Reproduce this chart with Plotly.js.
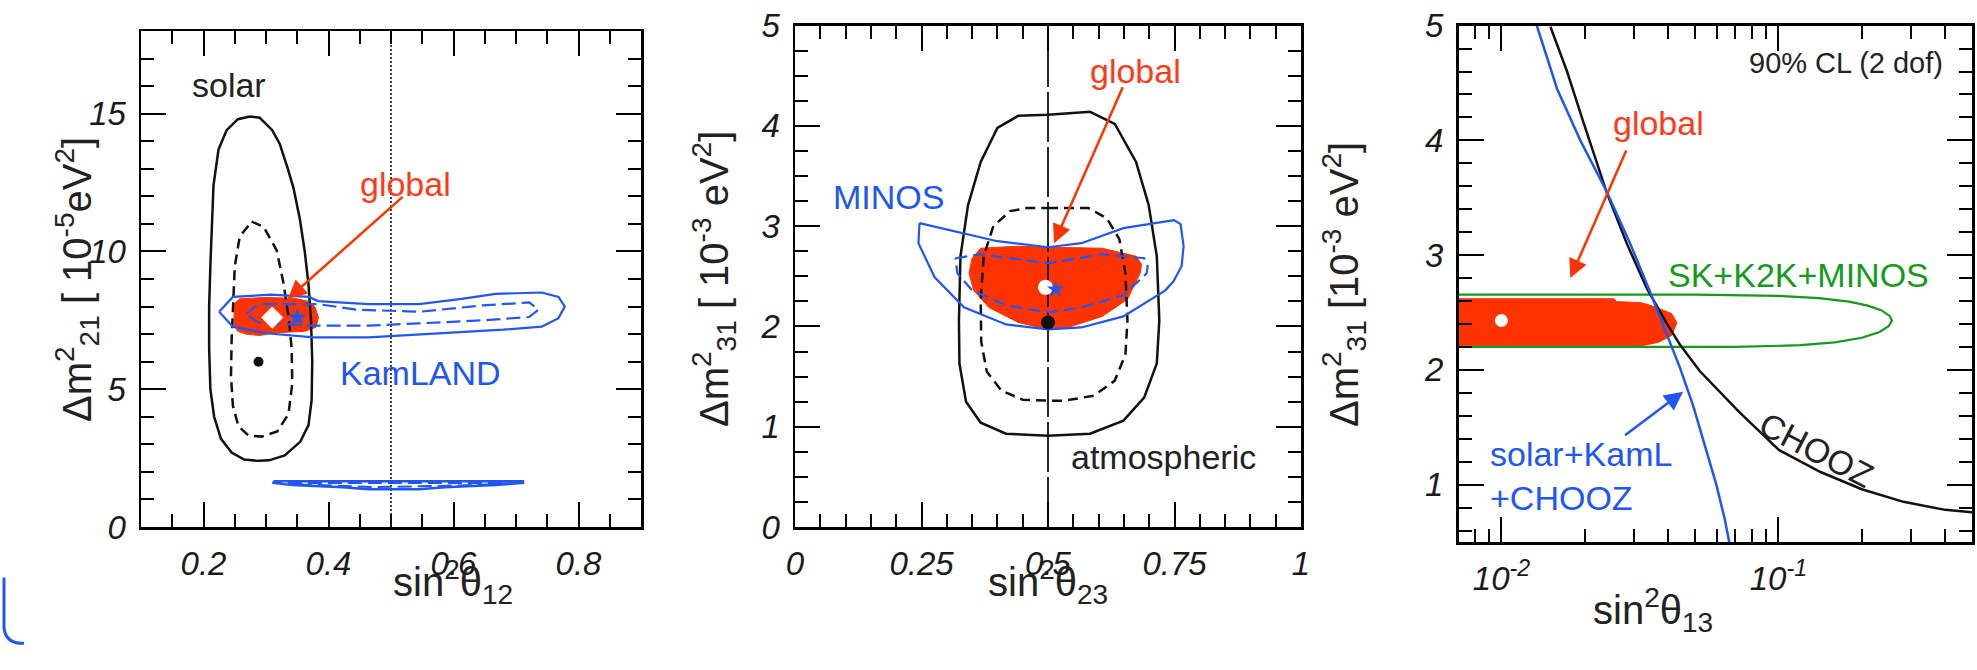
<!DOCTYPE html>
<html><head><meta charset="utf-8">
<script src="https://cdn.plot.ly/plotly-3.0.1.min.js"></script>
<style>html,body{margin:0;padding:0;background:#fff}#wrap{position:relative;width:1977px;height:670px}.pl{position:absolute;left:0;top:0;width:1977px;height:670px}#p0{position:absolute;left:0;top:565px;width:40px;height:90px}#note{position:absolute;left:1975px;top:668px;width:2px;height:2px;background:rgba(255,255,255,0.85);z-index:10;white-space:pre-wrap}</style>
</head><body><div id="wrap"><div id="p1" class="pl"></div><div id="p2" class="pl"></div><div id="p3" class="pl"></div><div id="p0"></div></div><div id="note"></div>
<script>
// ---------- Panel 1: sin^2 theta12 vs dm21 ----------
const solarOuterX = [0.274,0.29,0.31,0.322,0.335,0.344,0.354,0.362,0.368,0.372,0.374,0.373,0.368,0.355,0.33,0.305,0.288,0.265,0.245,0.228,0.217,0.211,0.209,0.209,0.211,0.213,0.216,0.224,0.237,0.255,0.274];
const solarOuterY = [14.9,14.85,14.4,13.9,13.0,12.3,11.2,10.0,8.8,7.5,6.0,4.6,3.7,3.1,2.6,2.42,2.4,2.45,2.7,3.2,4.0,5.0,6.5,8.0,9.5,11.0,12.4,13.7,14.4,14.8,14.9];
const solarInnerX = [0.277,0.296,0.317,0.328,0.336,0.341,0.342,0.336,0.318,0.293,0.272,0.256,0.247,0.244,0.245,0.248,0.25,0.258,0.277];
const solarInnerY = [11.08,10.9,10.05,8.85,7.63,6.5,5.2,4.1,3.47,3.28,3.32,3.65,4.4,5.5,6.8,8.24,9.45,10.54,11.08];
const kamOuterX = [0.225,0.247,0.308,0.369,0.383,0.464,0.545,0.613,0.667,0.741,0.768,0.778,0.768,0.741,0.680,0.613,0.545,0.464,0.376,0.301,0.247,0.225];
const kamOuterY = [7.81,8.35,8.43,8.35,8.20,8.09,8.09,8.28,8.46,8.51,8.35,8.0,7.58,7.27,7.16,7.07,7.0,6.88,6.88,7.03,7.27,7.81];
const kamInnerX = [0.268,0.288,0.383,0.444,0.545,0.646,0.721,0.736,0.721,0.646,0.545,0.464,0.376,0.288,0.268];
const kamInnerY = [7.73,8.09,8.09,7.89,7.81,8.04,8.15,7.89,7.62,7.5,7.39,7.31,7.31,7.42,7.73];
const kamLowOuterX = [0.312,0.711,0.711,0.667,0.586,0.545,0.464,0.423,0.342,0.312,0.312];
const kamLowOuterY = [1.66,1.66,1.60,1.52,1.44,1.37,1.37,1.44,1.52,1.60,1.66];
const kamLowInnerX = [0.335,0.69,0.66,0.58,0.47,0.36,0.335];
const kamLowInnerY = [1.60,1.60,1.55,1.49,1.45,1.54,1.60];
const global1X = [0.249,0.249,0.258,0.30,0.345,0.366,0.378,0.384,0.380,0.362,0.315,0.29,0.268,0.255,0.249];
const global1Y = [7.3,8.1,8.28,8.33,8.3,8.2,8.0,7.6,7.25,7.1,7.05,6.95,7.0,7.1,7.3];
const best1 = {global:[0.31,7.6], kam:[0.35,7.6], solar:[0.288,6.0]};
const maxMix = 0.5;

// ---------- Panel 2: sin^2 theta23 vs dm31 ----------
const atmOuterX = [0.5,0.583,0.632,0.674,0.699,0.715,0.72,0.715,0.69,0.649,0.583,0.5,0.417,0.367,0.338,0.325,0.324,0.327,0.342,0.367,0.4,0.441,0.5];
const atmOuterY = [4.11,4.14,4.02,3.64,3.21,2.70,2.06,1.63,1.29,1.06,0.93,0.91,0.93,1.04,1.25,1.63,2.06,2.70,3.21,3.64,3.98,4.10,4.11];
const atmInnerX = [0.5,0.58,0.616,0.641,0.653,0.657,0.653,0.632,0.591,0.533,0.5,0.45,0.408,0.379,0.368,0.367,0.373,0.392,0.425,0.458,0.5];
const atmInnerY = [3.18,3.18,3.08,2.87,2.53,2.06,1.72,1.46,1.31,1.26,1.26,1.27,1.36,1.55,1.85,2.27,2.70,3.0,3.15,3.18,3.18];
const minosOuterX = [0.246,0.317,0.4,0.5,0.566,0.649,0.749,0.762,0.768,0.764,0.748,0.732,0.649,0.566,0.5,0.417,0.334,0.276,0.244,0.246];
const minosOuterY = [3.03,2.95,2.85,2.79,2.83,2.98,3.06,3.02,2.8,2.6,2.45,2.36,2.10,1.99,1.97,2.02,2.19,2.49,2.83,3.03];
const minosInnerX = [0.317,0.367,0.44,0.5,0.607,0.69,0.697,0.695,0.649,0.566,0.5,0.417,0.35,0.321,0.317];
const minosInnerY = [2.68,2.72,2.67,2.63,2.72,2.68,2.6,2.53,2.31,2.19,2.14,2.21,2.36,2.53,2.68];
const global2X = [0.344,0.35,0.367,0.441,0.5,0.607,0.674,0.685,0.682,0.657,0.607,0.533,0.5,0.441,0.383,0.353,0.344];
const global2Y = [2.53,2.68,2.78,2.80,2.79,2.78,2.70,2.62,2.53,2.27,2.10,1.98,1.97,2.04,2.19,2.36,2.53];
const best2 = {global:[0.495,2.39], minos:[0.515,2.37], atm:[0.5,2.04]};

// ---------- Panel 3: sin^2 theta13 (log) vs dm31 ----------
const choozX = [0.01503,0.01726,0.01982,0.02213,0.02404,0.02837,0.0335,0.03944,0.0441,0.052,0.0613,0.0724,0.1007,0.142,0.2,0.283,0.4,0.5];
const choozY = [4.99,4.6,4.15,3.79,3.54,3.10,2.71,2.41,2.22,1.99,1.81,1.63,1.30,1.11,0.96,0.85,0.78,0.76];
const solKamX = [0.0133,0.01346,0.01588,0.01927,0.02404,0.02917,0.0344,0.0389,0.0441,0.0492,0.055,0.0597,0.064,0.0663,0.0667];
const solKamY = [5.05,4.99,4.45,4.0,3.55,3.10,2.68,2.35,2.02,1.69,1.30,1.0,0.70,0.52,0.48];
const skX = [0.005,0.05,0.1,0.14,0.18,0.21,0.235,0.252,0.257,0.25,0.232,0.2,0.16,0.12,0.07,0.005];
const skY = [2.655,2.655,2.645,2.625,2.595,2.56,2.52,2.47,2.43,2.38,2.33,2.28,2.24,2.215,2.2,2.2];
const global3X = [0.005,0.0255,0.026,0.032,0.0358,0.0412,0.043,0.0412,0.0369,0.0321,0.005,0.005];
const global3Y = [2.62,2.62,2.595,2.585,2.55,2.49,2.41,2.30,2.24,2.21,2.21,2.62];
const best3 = [0.01,2.43];
const p3MajorTicks = [0.01, 0.1];
const p3MajorText = ['10<sup>-2</sup>', '10<sup>-1</sup>'];
const p3MinorTicks = [0.007,0.008,0.009,0.02,0.03,0.04,0.05,0.06,0.07,0.08,0.09,0.2,0.3,0.4,0.5];

const RED = '#ff3300', BLUE = '#2157f0', GREEN = '#169a1c', BLK = '#111111';
const FONT = 'Liberation Sans, Arial, Helvetica, sans-serif';
const L = Math.log10;
const W = 1977, H = 670;
const px = v => v / W, py = v => 1 - v / H;

function line(x, y, color, width, dash) {
  const ln = {color: color, width: width};
  if (dash) ln.dash = dash;
  return {type:'scatter', mode:'lines', x:x, y:y, line:ln, hoverinfo:'skip', showlegend:false};
}
function fill(x, y, color) {
  return {type:'scatter', mode:'lines', x:x, y:y, fill:'toself', fillcolor:color, line:{color:color, width:1}, hoverinfo:'skip', showlegend:false};
}
function mark(pt, symbol, color, size) {
  return {type:'scatter', mode:'markers', x:[pt[0]], y:[pt[1]], marker:{symbol:symbol, color:color, size:size, line:{width:0}}, hoverinfo:'skip', showlegend:false};
}
const tickFont = {family: FONT, size: 33, color: '#1a1a1a', style: 'italic'};
function axisBase(extra) {
  return Object.assign({showline: true, linecolor: '#000', linewidth: 2.5, mirror: 'ticks',
    ticks: 'inside', ticklen: 25, tickwidth: 2, tickcolor: '#000', showgrid: false, zeroline: false,
    tickfont: tickFont, ticklabelstandoff: 6, fixedrange: true, layer: 'above traces'}, extra);
}
function minor(dtick) { return {ticks: 'inside', ticklen: 13, tickwidth: 2, tickcolor: '#000', dtick: dtick, tick0: 0, showgrid: false}; }
const labelFont = c => ({family: FONT, size: 34, color: c});
function txt(text, x, y, color, extra) {
  return Object.assign({text: text, x: x, y: y, xref: 'x', yref: 'y', showarrow: false,
    font: labelFont(color)}, extra || {});
}
function arrow(head, tail, color) {
  return {text: '', x: head[0], y: head[1], ax: tail[0], ay: tail[1], xref: 'x', yref: 'y',
    axref: 'x', ayref: 'y', showarrow: true, arrowhead: 2, arrowsize: 1.5, arrowwidth: 2.5,
    arrowcolor: color, standoff: 0};
}
function title(text, xpx, ypx, angle) {
  return {text: text, x: px(xpx), y: py(ypx), xref: 'paper', yref: 'paper', showarrow: false,
    font: {family: FONT, size: 40, color: '#222'}, textangle: angle || 0};
}
function layoutFor(xa, ya) {
  const xa2 = Object.assign({}, xa, {overlaying: 'x', anchor: 'y2', showticklabels: false});
  const ya2 = Object.assign({}, ya, {overlaying: 'y', anchor: 'x2', showticklabels: false});
  return {width: W, height: H, margin: {l: 0, r: 0, t: 0, b: 0}, showlegend: false,
    xaxis: Object.assign({anchor: 'y'}, xa), yaxis: Object.assign({anchor: 'x'}, ya), xaxis2: xa2, yaxis2: ya2};
}
const cfg = {displayModeBar: false, staticPlot: true};

function draw(id, traces, layout, anns) {
  return Plotly.newPlot(id, traces, layout, cfg)
    .then(() => Plotly.relayout(id, {annotations: anns}))
    .then(() => Plotly.relayout(id, {paper_bgcolor: 'rgba(0,0,0,0)', plot_bgcolor: 'rgba(0,0,0,0)'}));
}

const panel1 = [
  fill(global1X, global1Y, RED),
  line([maxMix, maxMix], [0, 18], BLK, 1.6, '2px,2px'),
  line(solarOuterX, solarOuterY, BLK, 2.5),
  line(solarInnerX, solarInnerY, BLK, 2.5, '10px,6px'),
  line(kamOuterX, kamOuterY, BLUE, 2.2),
  line(kamInnerX, kamInnerY, BLUE, 2.2, '14px,6px'),
  line(kamLowOuterX, kamLowOuterY, BLUE, 2.5),
  line(kamLowInnerX, kamLowInnerY, BLUE, 2, '14px,6px'),
  mark(best1.global, 'diamond', '#ffffff', 17),
  mark(best1.kam, 'star', BLUE, 14),
  mark(best1.solar, 'circle', BLK, 10)
];
const panel2 = [
  fill(global2X, global2Y, RED),
  line([0.5, 0.5], [0, 5], BLK, 1.8, '50px,5px'),
  line(atmOuterX, atmOuterY, BLK, 2.5),
  line(atmInnerX, atmInnerY, BLK, 2.5, '10px,6px'),
  line(minosOuterX, minosOuterY, BLUE, 2.2),
  line(minosInnerX, minosInnerY, BLUE, 2.2, '12px,6px'),
  mark(best2.global, 'circle', '#ffffff', 15),
  mark(best2.minos, 'star', BLUE, 13),
  mark(best2.atm, 'circle', BLK, 14)
];
const panel3 = [
  fill(global3X, global3Y, RED),
  line(skX, skY, GREEN, 2.2),
  line(choozX, choozY, BLK, 2.5),
  line(solKamX, solKamY, BLUE, 2.5),
  mark(best3, 'circle', '#ffffff', 13)
];

draw('p1', panel1, layoutFor(
  axisBase({domain: [px(141), px(641)], range: [0.1, 0.9], tick0: 0.2, dtick: 0.2, minor: minor(0.05)}),
  axisBase({domain: [py(527), py(31)], range: [0, 18], tick0: 0, dtick: 5, minor: minor(1)})), [
    txt('solar', 0.241, 16.04, '#222'),
    txt('global', 0.523, 12.44, '#ff3a1a'),
    txt('KamLAND', 0.547, 5.6, BLUE),
    arrow([0.335, 8.28], [0.521, 12.03], RED),
    title('sin<sup>2</sup>θ<sub>12</sub>', 391, 612),
    title('Δm<sup>2</sup><sub>21</sub> [ 10<sup>-5</sup>eV<sup>2</sup>]', 47, 280, -90)
  ])
.then(() => draw('p2', panel2, layoutFor(
  axisBase({domain: [px(795), px(1301)], range: [0, 1], tick0: 0, dtick: 0.25, minor: minor(0.05)}),
  axisBase({domain: [py(527), py(25.6)], range: [0, 5], tick0: 0, dtick: 1, minor: minor(0.25)})), [
    txt('global', 0.672, 4.55, '#ff3a1a'),
    txt('MINOS', 0.185, 3.295, BLUE),
    txt('atmospheric', 0.729, 0.695, '#222'),
    arrow([0.512, 2.83], [0.649, 4.40], RED),
    title('sin<sup>2</sup>θ<sub>23</sub>', 1048, 612),
    title('Δm<sup>2</sup><sub>31</sub> [ 10<sup>-3</sup> eV<sup>2</sup>]', 714, 279, -90)
  ]))
.then(() => draw('p3', panel3, layoutFor(
  axisBase({domain: [px(1458.5), px(1972)], type: 'log', range: [L(0.007), L(0.5)],
    tickmode: 'array', tickvals: p3MajorTicks, ticktext: p3MajorText,
    minor: {ticks: 'inside', ticklen: 13, tickwidth: 2, tickcolor: '#000', tickmode: 'array', tickvals: p3MinorTicks, showgrid: false}}),
  axisBase({domain: [py(542), py(25.6)], range: [0.5, 5], tick0: 0, dtick: 1, minor: minor(0.2)})), [
    txt('global', L(0.0368), 4.15, '#ff3a1a'),
    arrow([L(0.01774), 2.80], [L(0.02838), 3.925], RED),
    txt('solar+KamL<br>+CHOOZ', L(0.00891), 1.075, BLUE, {xanchor: 'left', align: 'left'}),
    arrow([L(0.0453), 1.81], [L(0.02761), 1.42], BLUE),
    txt('SK+K2K+MINOS', L(0.0394), 2.83, GREEN, {xanchor: 'left'}),
    txt('CHOOZ', L(0.1374), 1.30, '#222', {textangle: 27.5}),
    txt('90% CL (2 dof)', L(0.4), 4.67, '#222', {xanchor: 'right', font: {family: FONT, size: 29, color: '#222'}}),
    title('sin<sup>2</sup>θ<sub>13</sub>', 1715, 640),
    title('Δm<sup>2</sup><sub>31</sub> [10<sup>-3</sup> eV<sup>2</sup>]', 1374, 285, -90)
  ]))
.then(() => Plotly.newPlot('p0', [], {width: 40, height: 90, margin: {l: 0, r: 0, t: 0, b: 0},
  paper_bgcolor: 'rgba(0,0,0,0)', plot_bgcolor: 'rgba(0,0,0,0)',
  xaxis: {visible: false, range: [0, 1]}, yaxis: {visible: false, range: [0, 1]},
  shapes: [{type: 'path', xref: 'paper', yref: 'paper', path: 'M 0.1,0.86 L 0.1,0.3 Q 0.15,0.12 0.6,0.13', line: {color: BLUE, width: 3}}]
}, cfg))
.then(() => { document.getElementById('note').textContent = ' '; });
</script>
</body></html>
